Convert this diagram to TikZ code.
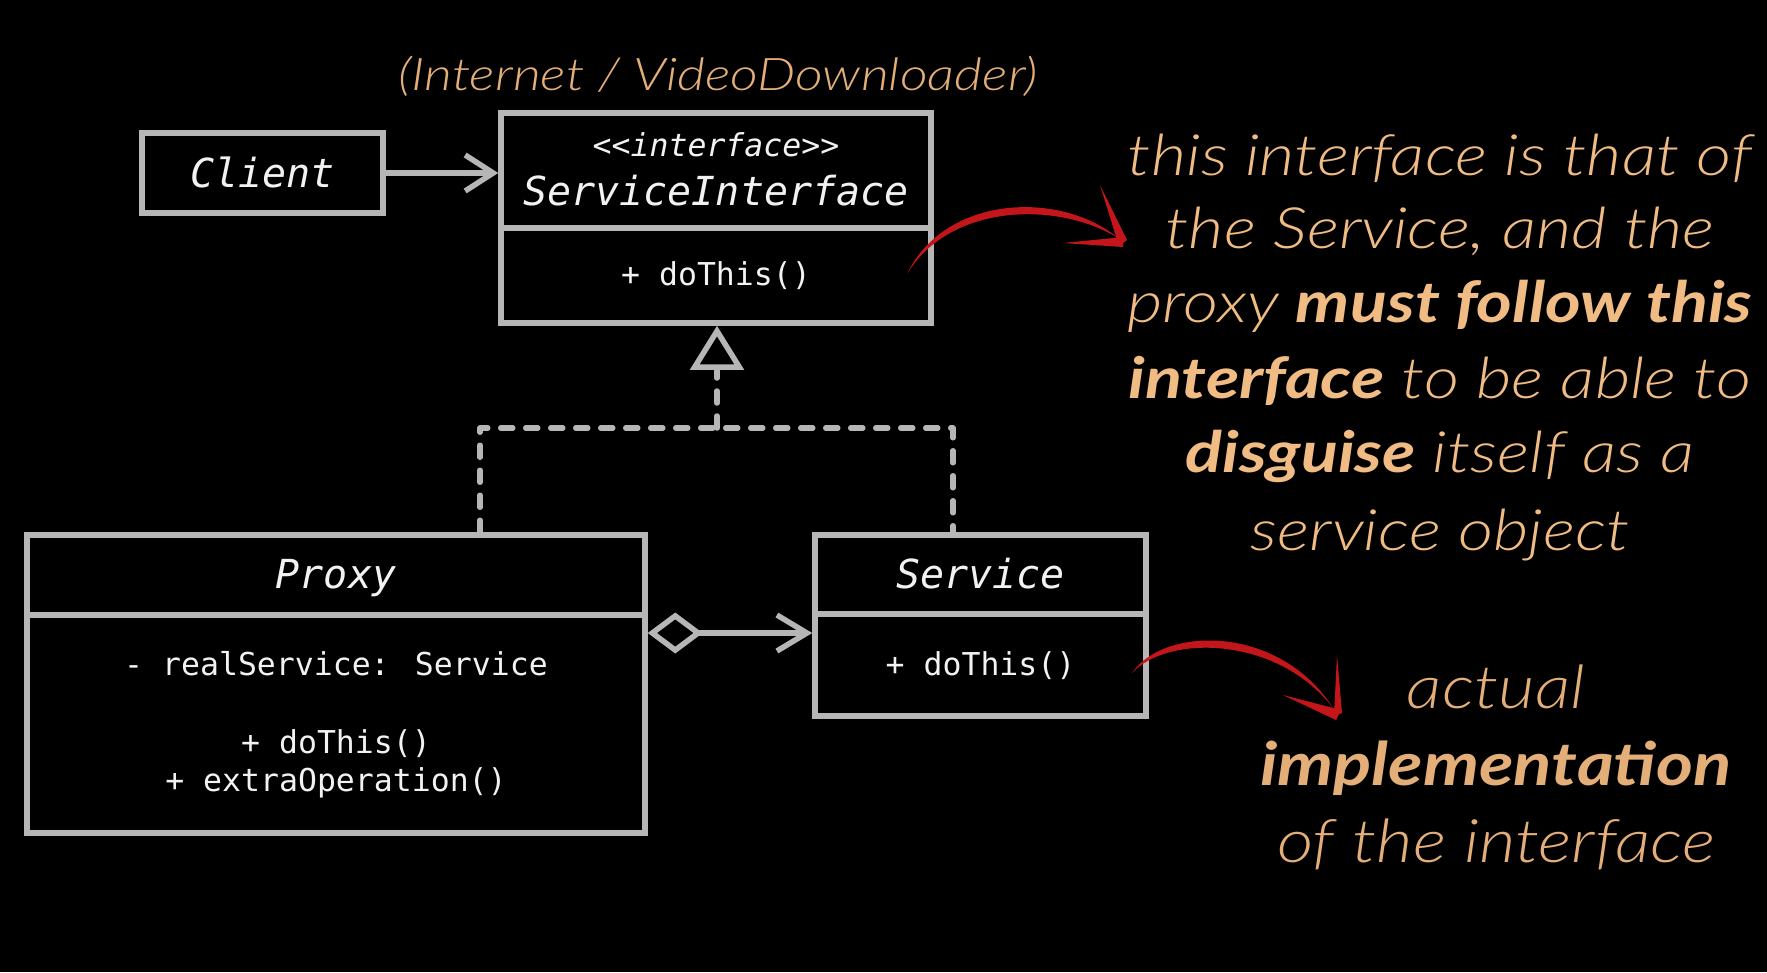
\documentclass[tikz,border=0pt]{standalone}
\usepackage{fontspec}
\usetikzlibrary{arrows.meta,calc}
\IfFontExistsTF{Lato Light Italic}
  {\newfontfamily\notefont{Lato Light Italic}[FakeStretch=1.2,BoldFont={Lato Bold Italic}]
   \newfontfamily\notefontb{Lato Light Italic}[FakeStretch=1.18,BoldFont={Lato Bold Italic}]}
  {\newfontfamily\notefont{Lato Italic}[FakeStretch=1.2,BoldFont={Lato Bold Italic}]
   \newfontfamily\notefontb{Lato Italic}[FakeStretch=1.18,BoldFont={Lato Bold Italic}]}
\newfontfamily\monofont{DejaVu Sans Mono}
\definecolor{boxgray}{RGB}{182,182,182}
\definecolor{notetan}{RGB}{240,188,132}
\definecolor{notetandark}{RGB}{228,174,120}
\definecolor{brush}{RGB}{196,22,26}
\definecolor{codewhite}{RGB}{242,242,242}
\begin{document}
\begin{tikzpicture}[x=1pt,y=-1pt,
  umlbox/.style={draw=boxgray, line width=5.5pt, fill=black, inner sep=0pt},
  nametext/.style={font=\monofont\itshape\fontsize{40}{48}\selectfont, text=codewhite, inner sep=0pt},
  stereotext/.style={font=\monofont\itshape\fontsize{31.5}{38}\selectfont, text=codewhite, inner sep=0pt},
  membertext/.style={font=\monofont\fontsize{31.5}{38}\selectfont, text=codewhite, inner sep=0pt},
  conn/.style={draw=boxgray, line width=5.5pt},
  dashline/.style={draw=boxgray, line width=5.5pt, dash pattern=on 12pt off 13pt, line cap=round, line join=round},
  notetext/.style={font=\notefont\fontsize{57}{75}\selectfont, text=notetan, inner sep=0pt},
  notetext2/.style={font=\notefontb\fontsize{60}{77}\selectfont, text=notetandark, inner sep=0pt},
  titletext/.style={font=\notefont\fontsize{45}{52}\selectfont, text=notetandark, inner sep=0pt},
  brushfill/.style={fill=brush}
]
\fill[black] (0,0) rectangle (1767,972);
\useasboundingbox (0,0) rectangle (1767,972);

% title
\node[titletext, anchor=base] (title) at (718,90) {(Internet / VideoDownloader)};

% Client
\node[umlbox, minimum width=241pt, minimum height=80pt] (client) at (262.5,173) {};
\node[nametext, anchor=base] (clientlbl) at (262.5,187) {Client};

% ServiceInterface
\node[umlbox, minimum width=430pt, minimum height=115pt] (sitop) at (716,170.5) {};
\node[umlbox, minimum width=430pt, minimum height=95pt] (sibot) at (716,275.5) {};
\node[stereotext, anchor=base] (sister) at (716,156) {<{}<interface>{}>};
\node[nametext, anchor=base] (siname) at (716,205) {ServiceInterface};
\node[membertext, anchor=base] (simeth) at (716,285) {+ doThis()};

% Proxy
\node[umlbox, minimum width=618pt, minimum height=80pt] (proxytop) at (336,575) {};
\node[umlbox, minimum width=618pt, minimum height=218pt] (proxybot) at (336,724) {};
\node[nametext, anchor=base] (proxyname) at (336,588) {Proxy};
\node[membertext, anchor=base] (proxyf) at (336,675) {- realService: Service};
\node[membertext, anchor=base] (proxym1) at (336,753) {+ doThis()};
\node[membertext, anchor=base] (proxym2) at (336,791) {+ extraOperation()};

% Service
\node[umlbox, minimum width=331pt, minimum height=79pt] (servicetop) at (980.5,574.5) {};
\node[umlbox, minimum width=331pt, minimum height=102pt] (servicebot) at (980.5,665) {};
\node[nametext, anchor=base] (servicename) at (980.5,588) {Service};
\node[membertext, anchor=base] (servicem) at (980.5,675) {+ doThis()};

% Client -> ServiceInterface
\draw[conn, -{Straight Barb[length=28pt,width=36pt]}] (client.east) -- (client.east -| sitop.west);

% realization
\coordinate (jn) at (717,428);
\coordinate (lx) at (480,428);
\coordinate (rx) at (953,428);
\draw[dashline] (lx |- proxytop.north) -- (lx) -- (rx) -- (rx |- servicetop.north);
\draw[dashline, -{Triangle[open,length=44pt,width=53pt,line cap=butt]}] (jn) -- (jn |- sibot.south);

% aggregation
\coordinate (aggy) at (0,633);
\draw[conn, {Diamond[open,length=55pt,width=41pt]}-{Straight Barb[length=30pt,width=36pt]}]
  (proxybot.east |- aggy) -- (servicebot.west |- aggy);

% red brush arrow 1
\fill[brushfill] (907,274) .. controls (945,195) and (1060,190) .. (1118,238)
  .. controls (1058,201) and (950,203) .. (907,274) -- cycle;
\fill[brushfill] (1100,185) -- (1127,240) -- (1119,246) -- cycle;
\fill[brushfill] (1063,243) -- (1124,237) -- (1123,247) -- cycle;

% red brush arrow 2
\fill[brushfill] (1132,673) .. controls (1165,625) and (1280,625) .. (1333,708)
  .. controls (1278,636) and (1168,634) .. (1132,673) -- cycle;
\fill[brushfill] (1337,655) -- (1342,713) -- (1334,716) -- cycle;
\fill[brushfill] (1283,695) -- (1341,710) -- (1336,720) -- cycle;

% note 1
\node[notetext, anchor=base] (n1) at (1440,175) {this interface is that of};
\node[notetext, anchor=base] (n2) at (1440,248) {the Service, and the};
\node[notetext, anchor=base] (n3) at (1440,322) {proxy \textbf{must follow this}};
\node[notetext, anchor=base] (n4) at (1440,398) {\textbf{interface} to be able to};
\node[notetext, anchor=base] (n5) at (1440,472) {\textbf{disguise} itself as a};
\node[notetext, anchor=base] (n6) at (1440,550) {service object};

% note 2
\node[notetext2, anchor=base] (m1) at (1496,708) {actual};
\node[notetext2, anchor=base] (m2) at (1496,785) {\textbf{implementation}};
\node[notetext2, anchor=base] (m3) at (1496,862) {of the interface};
\end{tikzpicture}
\end{document}
